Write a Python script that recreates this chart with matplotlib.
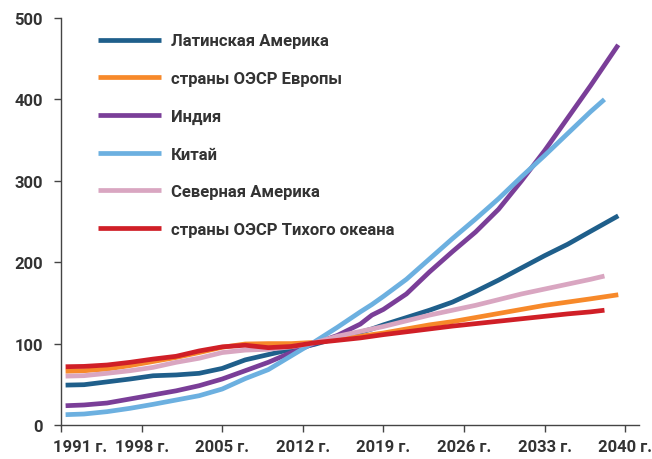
import matplotlib
matplotlib.use("Agg")
import matplotlib.pyplot as plt
from matplotlib.transforms import ScaledTranslation

# years for the series that run to the right edge, and for the shorter ones
years_long = [1991.4, 1993, 1995, 1997, 1999, 2001, 2003, 2005, 2007, 2009, 2011, 2013,
              2015, 2017, 2018, 2019, 2021, 2023, 2025, 2027, 2029, 2031, 2033, 2035, 2037, 2039.4]
years_short = years_long[:-1] + [2038.2]

latin_america = [49, 49.5, 53, 56.5, 60.5, 61.5, 63.5, 69.5, 80, 86.5, 93, 99,
                 107, 114, 118, 123, 132, 141, 151, 164, 178, 193, 208, 222, 238, 257]
oecd_europe = [66, 66.7, 68.8, 73, 78, 83, 89, 95.5, 99.5, 100, 100, 101.5,
               105, 109, 111, 113, 118, 123, 127, 132, 137, 142, 147, 151, 155, 160]
india = [23.7, 24.6, 27, 32, 37, 42, 48.3, 56.5, 66.7, 77, 89, 100,
         110, 124, 135, 142, 161, 188, 213, 237, 265, 300, 337, 377, 417, 467]
china = [12.7, 13.5, 16.4, 20.5, 25.4, 30.7, 36, 44.2, 57, 68, 85, 102,
         120, 139, 148, 158, 179, 204, 229, 253, 278, 305, 331, 358, 385, 400]
north_america = [60, 60.6, 63.5, 66.7, 70.8, 77, 82, 89, 92, 93, 96, 101,
                 109, 115, 118, 121, 128, 135, 141, 147, 154, 161, 167, 173, 179, 183]
oecd_pacific = [71.6, 72, 73.7, 77, 81, 84.4, 91, 96, 98, 95, 96.5, 101,
                104, 107, 109, 111, 114.5, 118, 121.5, 124.5, 127.5, 130.5, 133.5, 136.5, 139, 141]

tick_years = [1991, 1998, 2005, 2012, 2019, 2026, 2033, 2040]
tick_labels = [f"{y} г." for y in tick_years]

plt.rcParams['font.family'] = ['Roboto', 'DejaVu Sans']
text_color = "#333333"

fig = plt.figure(figsize=(6.52, 4.6), dpi=100)
ax = fig.add_axes([61 / 652, 1 - 426 / 460, 578 / 652, 407 / 460])

series = [
    ("Латинская Америка", years_long, latin_america, "#1f5f8b"),
    ("страны ОЭСР Европы", years_long, oecd_europe, "#f7892a"),
    ("Индия", years_long, india, "#7a3e98"),
    ("Китай", years_short, china, "#6cb0e0"),
    ("Северная Америка", years_short, north_america, "#d9a6c1"),
    ("страны ОЭСР Тихого океана", years_short, oecd_pacific, "#d01f27"),
]
for name, xs, ys, col in series:
    ax.plot(xs, ys, color=col, lw=3.4, label=name, solid_capstyle="butt",
            solid_joinstyle="round")

ax.set_xlim(1991, 2041.2)
ax.set_ylim(0, 500)
ax.set_xticks(tick_years)
ax.set_xticklabels(tick_labels)
ax.set_yticks([0, 100, 200, 300, 400, 500])

for s in ["top", "right"]:
    ax.spines[s].set_visible(False)
for s in ["left", "bottom"]:
    ax.spines[s].set_color("#444444")
    ax.spines[s].set_linewidth(1)
ax.tick_params(direction="out", length=5, width=1, color="#444444",
               labelsize=12, labelcolor=text_color, pad=5)
ax.tick_params(axis="y", pad=8)
for lab in ax.get_xticklabels() + ax.get_yticklabels():
    lab.set_fontweight("bold")
# first year label sits a bit to the right of its tick
first = ax.get_xticklabels()[0]
first.set_transform(first.get_transform() + ScaledTranslation(0.19, 0, fig.dpi_scale_trans))

leg = ax.legend(loc="upper left", bbox_to_anchor=(0.064, 0.962), frameon=False,
                handlelength=3.8, handletextpad=0.6, labelspacing=1.36,
                borderpad=0, borderaxespad=0,
                prop={"size": 12, "weight": "bold"})
for t in leg.get_texts():
    t.set_color(text_color)
for h in leg.get_lines():
    h.set_linewidth(3.4)

fig.savefig("out.png", dpi=100)
